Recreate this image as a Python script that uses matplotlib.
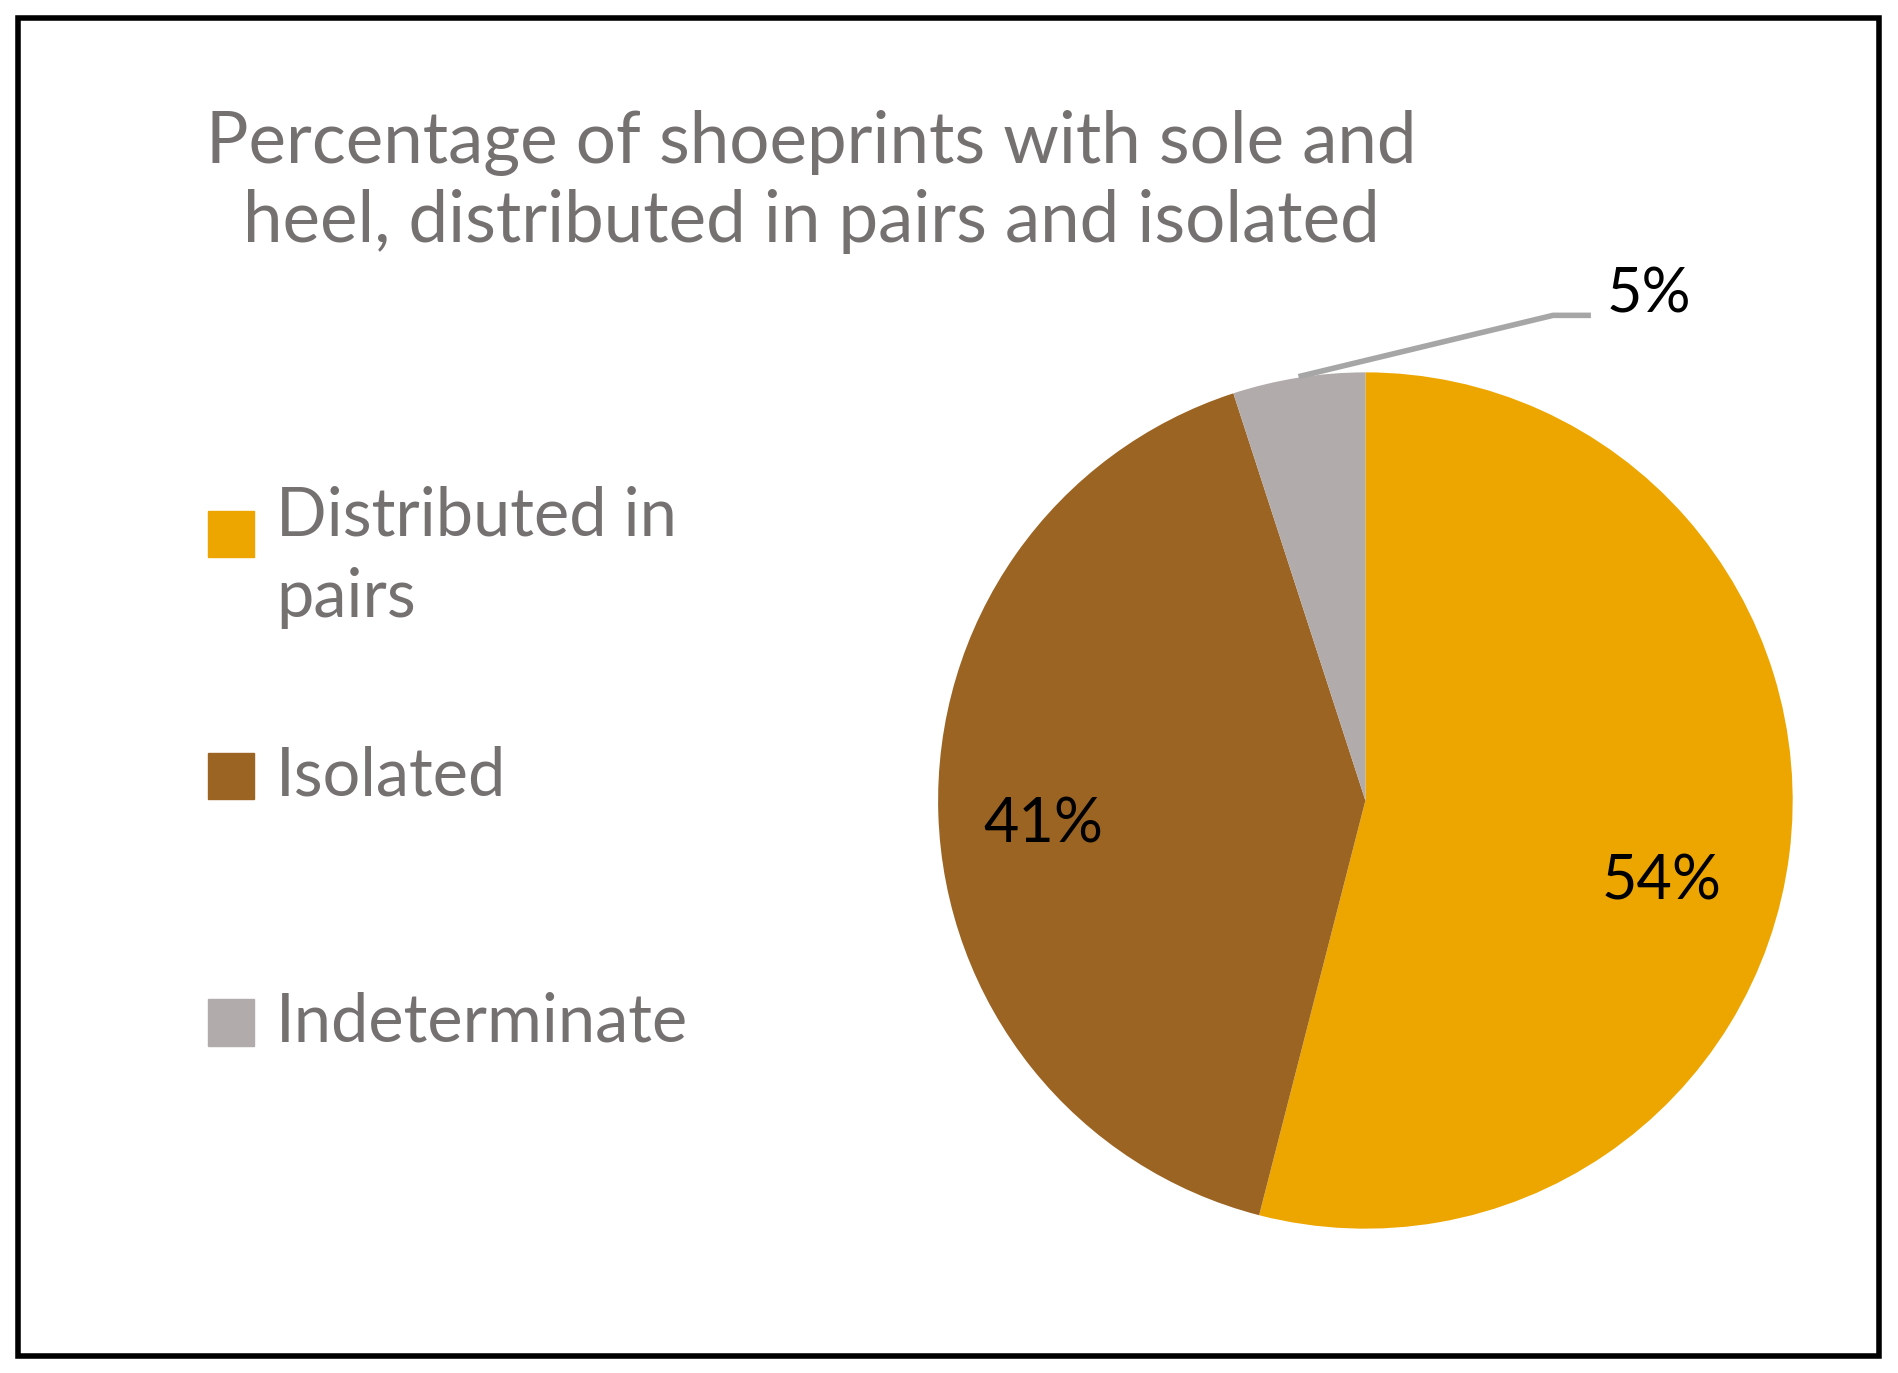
import matplotlib.pyplot as plt
from matplotlib.patches import Rectangle

categories = ["Distributed in\npairs", "Isolated", "Indeterminate"]
values = [54, 41, 5]
colors = ["#EDA600", "#9C6423", "#B1ACAB"]
pct_labels = ["54%", "41%", "5%"]

W, H = 1568, 1132  # reference coordinates used for layout
fig = plt.figure(figsize=(18.98, 13.73), dpi=100)
plt.rcParams['font.family'] = ['Lato', 'DejaVu Sans']

def fx(x): return x / W
def fy(y): return 1 - y / H

# frame
fig.patches.append(Rectangle((fx(15), fy(1118)), fx(1552) - fx(15), fy(15) - fy(1118),
                             transform=fig.transFigure, fill=False, lw=4, ec="black"))

fig.text(fx(670), fy(150), "Percentage of shoeprints with sole and\nheel, distributed in pairs and isolated",
         ha="center", va="center", fontsize=51, color="#757171", linespacing=1.25)

# pie
cx, cy, r = 1128, 660, 353
ax = fig.add_axes([fx(cx - r), fy(cy + r), 2 * r / W, 2 * r / H])
ax.pie(values, colors=colors, startangle=90, counterclock=False, radius=1,
       wedgeprops=dict(linewidth=0))
ax.set_xlim(-1, 1)
ax.set_ylim(-1, 1)
ax.set_aspect("auto")
ax.axis("off")

label_pos = [(1373, 727), (862, 680), (1362, 243)]
for lab, (x, y) in zip(pct_labels, label_pos):
    fig.text(fx(x), fy(y), lab, ha="center", va="center", fontsize=44, color="black")

# leader line for 5%
fig.add_artist(plt.Line2D([fx(1075), fx(1283), fx(1312)], [fy(310), fy(260), fy(260)],
                          transform=fig.transFigure, color="#A6A6A6", lw=4))

# legend
leg_y = [440, 640, 843]
for cat, col, y in zip(categories, colors, leg_y):
    fig.patches.append(Rectangle((fx(172), fy(y + 19)), fx(210) - fx(172), fy(y - 19) - fy(y + 19),
                                 transform=fig.transFigure, color=col))
    fig.text(fx(228), fy(y), cat, ha="left", va="top" if "\n" in cat else "center",
             fontsize=48, color="#757171", linespacing=1.4,
             transform=fig.transFigure) if False else None
    if "\n" in cat:
        fig.text(fx(228), fy(y - 40), cat, ha="left", va="top",
                 fontsize=48, color="#757171", linespacing=1.4)
    else:
        fig.text(fx(228), fy(y), cat, ha="left", va="center",
                 fontsize=48, color="#757171")

fig.savefig("out.png", dpi=100, facecolor="white")
